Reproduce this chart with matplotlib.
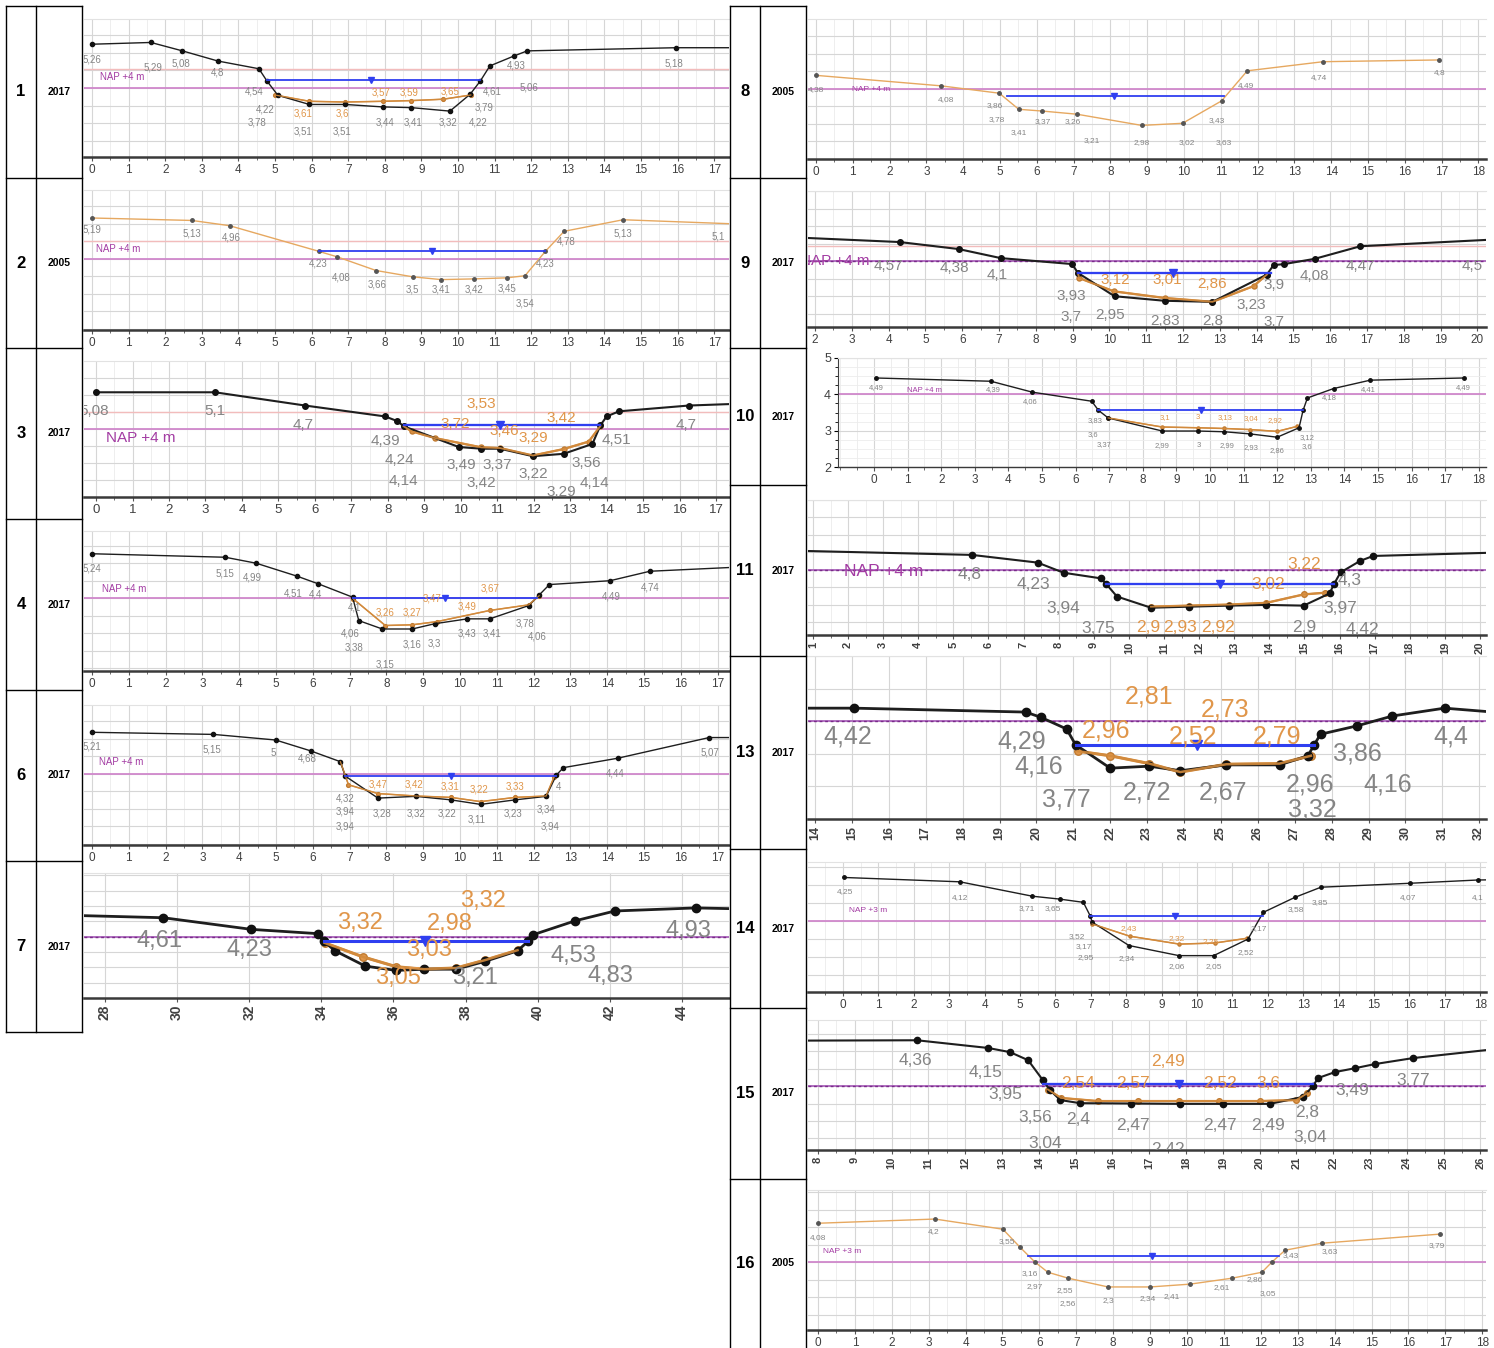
import matplotlib
matplotlib.use("Agg")
import matplotlib.pyplot as plt
from matplotlib.ticker import MultipleLocator
from matplotlib import font_manager

W, H = 1494, 1348

# ---------------- data (x in m along section, z in m) ----------------
# Panel 1 (2017)
P1_X = [0, 1.61, 2.47, 3.44, 4.56, 4.78, 5.08, 5.94, 6.92, 7.94, 8.72, 9.78, 10.33, 10.61, 10.87, 11.52, 11.89, 15.95, 17.8]
P1_Z = [5.25, 5.30, 5.06, 4.77, 4.55, 4.20, 3.79, 3.53, 3.53, 3.46, 3.44, 3.34, 3.82, 4.20, 4.63, 4.91, 5.06, 5.15, 5.15]
P1_OX = [5.0, 5.94, 6.92, 7.94, 8.72, 9.6, 10.35]
P1_OZ = [3.80, 3.62, 3.60, 3.62, 3.64, 3.68, 3.80]
P1_WL = [4.78, 10.61, 4.23, 7.63]
P1_LAB = [(0, 4.82, "5,26", "g"), (1.67, 4.58, "5,29", "g"), (2.44, 4.69, "5,08", "g"), (3.44, 4.44, "4,8", "g"),
          (4.44, 3.91, "4,54", "g"), (4.72, 3.40, "4,22", "g"), (4.5, 3.01, "3,78", "g"), (5.78, 3.26, "3,61", "o"),
          (5.78, 2.77, "3,51", "g"), (6.83, 3.26, "3,6", "o"), (6.83, 2.77, "3,51", "g"), (7.9, 3.86, "3,57", "o"),
          (8.67, 3.86, "3,59", "o"), (9.78, 3.91, "3,65", "o"), (8.0, 3.01, "3,44", "g"), (8.78, 3.01, "3,41", "g"),
          (9.72, 3.01, "3,32", "g"), (10.56, 3.01, "4,22", "g"), (10.72, 3.44, "3,79", "g"), (10.94, 3.89, "4,61", "g"),
          (11.6, 4.63, "4,93", "g"), (11.94, 4.0, "5,06", "g"), (15.89, 4.69, "5,18", "g"), (0.22, 4.32, "NAP +4 m", "m")]

# Panel 2 (2005)
P2_X = [0, 2.73, 3.76, 6.19, 6.7, 7.76, 8.76, 9.54, 10.43, 11.33, 11.83, 12.39, 12.9, 14.51, 17.6]
P2_Z = [5.17, 5.10, 4.95, 4.22, 4.06, 3.67, 3.49, 3.41, 3.43, 3.46, 3.52, 4.22, 4.79, 5.12, 5.0]
P2_WL = [6.19, 12.39, 4.22, 9.3]
P2_LAB = [(0, 4.84, "5,19", "g"), (2.73, 4.74, "5,13", "g"), (3.8, 4.62, "4,96", "g"), (6.19, 3.86, "4,23", "g"),
          (6.8, 3.46, "4,08", "g"), (7.8, 3.27, "3,66", "g"), (8.76, 3.12, "3,5", "g"), (9.54, 3.12, "3,41", "g"),
          (10.43, 3.12, "3,42", "g"), (11.33, 3.15, "3,45", "g"), (11.83, 2.74, "3,54", "g"), (12.39, 3.86, "4,23", "g"),
          (12.95, 4.5, "4,78", "g"), (14.51, 4.74, "5,13", "g"), (17.1, 4.65, "5,1", "g"), (0.1, 4.27, "NAP +4 m", "m")]

# Panel 3 (2017)
P3_X = [0, 3.26, 5.73, 7.92, 8.26, 8.43, 9.94, 10.56, 11.07, 11.97, 12.81, 13.6, 13.82, 13.99, 14.33, 16.24, 17.8]
P3_Z = [5.07, 5.07, 4.68, 4.36, 4.22, 4.07, 3.46, 3.41, 3.41, 3.19, 3.26, 3.55, 4.10, 4.36, 4.51, 4.68, 4.74]
P3_OX = [8.43, 8.65, 9.3, 10.56, 11.07, 11.97, 12.81, 13.5, 13.82]
P3_OZ = [4.07, 3.92, 3.72, 3.45, 3.43, 3.21, 3.40, 3.62, 4.08]
P3_WL = [8.43, 13.82, 4.10, 11.07]
P3_LAB = [(-0.05, 4.51, "5,08", "g"), (3.26, 4.51, "5,1", "g"), (5.67, 4.12, "4,7", "g"), (7.92, 3.63, "4,39", "g"),
          (8.31, 3.09, "4,24", "g"), (8.43, 2.45, "4,14", "g"), (10.56, 4.73, "3,53", "o"), (9.83, 4.14, "3,72", "o"),
          (11.18, 3.94, "3,46", "o"), (11.97, 3.73, "3,29", "o"), (12.75, 4.31, "3,42", "o"), (10.0, 2.94, "3,49", "g"),
          (11.0, 2.94, "3,37", "g"), (10.56, 2.40, "3,42", "g"), (11.97, 2.67, "3,22", "g"), (12.75, 2.14, "3,29", "g"),
          (13.43, 2.99, "3,56", "g"), (14.27, 3.68, "4,51", "g"), (13.65, 2.40, "4,14", "g"), (16.18, 4.10, "4,7", "g"),
          (0.28, 3.73, "NAP +4 m", "m")]

# Panel 4 (2017)
P4_X = [0, 3.62, 4.46, 5.57, 6.15, 7.08, 7.25, 7.89, 8.7, 9.31, 10.2, 10.81, 11.87, 12.15, 12.43, 14.08, 15.16, 17.8]
P4_Z = [5.27, 5.17, 5.00, 4.63, 4.41, 4.03, 3.36, 3.12, 3.12, 3.27, 3.41, 3.41, 3.79, 4.09, 4.39, 4.50, 4.77, 4.90]
P4_OX = [7.1, 7.97, 8.7, 9.37, 10.81, 11.87, 12.15]
P4_OZ = [3.98, 3.22, 3.24, 3.33, 3.65, 3.81, 4.07]
P4_WL = [7.08, 12.1, 4.0, 9.59]
P4_LAB = [(0, 4.84, "5,24", "g"), (3.62, 4.72, "5,15", "g"), (4.35, 4.60, "4,99", "g"), (5.46, 4.12, "4,51", "g"),
          (6.08, 4.10, "4,4", "g"), (7.13, 3.74, "4,1", "g"), (7.02, 2.98, "4,06", "g"), (7.13, 2.60, "3,38", "g"),
          (7.97, 2.12, "3,15", "g"), (7.97, 3.60, "3,26", "o"), (8.7, 3.60, "3,27", "o"), (9.25, 3.98, "3,47", "o"),
          (10.81, 4.27, "3,67", "o"), (10.2, 3.77, "3,49", "o"), (8.7, 2.69, "3,16", "g"), (9.31, 2.72, "3,3", "g"),
          (10.2, 2.98, "3,43", "g"), (10.87, 2.98, "3,41", "g"), (11.76, 3.29, "3,78", "g"), (12.1, 2.91, "4,06", "g"),
          (14.1, 4.05, "4,49", "g"), (15.16, 4.31, "4,74", "g"), (0.28, 4.27, "NAP +4 m", "m")]

# Panel 6 (2017)
P6_X = [0, 3.3, 4.99, 5.94, 6.75, 6.88, 7.77, 8.8, 9.75, 10.56, 11.5, 12.34, 12.62, 12.81, 14.29, 16.77, 17.8]
P6_Z = [5.19, 5.13, 4.97, 4.66, 4.35, 3.94, 3.31, 3.36, 3.26, 3.13, 3.26, 3.36, 3.97, 4.18, 4.45, 5.04, 5.04]
P6_OX = [6.75, 6.97, 7.77, 8.8, 9.75, 10.56, 11.5, 12.34, 12.56]
P6_OZ = [4.35, 3.69, 3.44, 3.37, 3.33, 3.21, 3.33, 3.37, 3.92]
P6_WL = [6.88, 12.62, 3.94, 9.75]
P6_LAB = [(0, 4.78, "5,21", "g"), (3.26, 4.69, "5,15", "g"), (4.93, 4.60, "5", "g"), (5.86, 4.45, "4,68", "g"),
          (6.88, 3.31, "4,32", "g"), (6.88, 2.93, "3,94", "g"), (6.88, 2.50, "3,94", "g"), (7.77, 3.69, "3,47", "o"),
          (8.75, 3.69, "3,42", "o"), (9.72, 3.64, "3,31", "o"), (10.53, 3.56, "3,22", "o"), (11.5, 3.64, "3,33", "o"),
          (7.88, 2.86, "3,28", "g"), (8.8, 2.86, "3,32", "g"), (9.66, 2.86, "3,22", "g"), (10.45, 2.70, "3,11", "g"),
          (11.45, 2.86, "3,23", "g"), (12.34, 2.98, "3,34", "g"), (12.67, 3.64, "4", "g"), (12.45, 2.50, "3,94", "g"),
          (14.21, 4.02, "4,44", "g"), (16.79, 4.60, "5,07", "g"), (0.2, 4.35, "NAP +4 m", "m")]

# Panel 7 (2017)
P7_X = [27.0, 29.62, 32.06, 33.91, 34.06, 34.38, 35.22, 36.08, 36.85, 37.74, 38.55, 39.44, 39.74, 39.86, 41.04, 42.14, 44.38, 46.0]
P7_Z = [4.35, 4.31, 4.12, 4.05, 3.93, 3.77, 3.52, 3.45, 3.47, 3.47, 3.60, 3.77, 3.93, 4.03, 4.26, 4.42, 4.47, 4.45]
P7_OX = [34.09, 35.16, 36.08, 36.85, 37.74, 38.55, 39.44]
P7_OZ = [3.90, 3.67, 3.51, 3.47, 3.49, 3.62, 3.78]
P7_WL = [34.06, 39.74, 3.93, 36.87]
P7_LAB = [(29.51, 3.93, "4,61", "g"), (32.0, 3.78, "4,23", "g"), (35.07, 4.23, "3,32", "o"), (38.49, 4.58, "3,32", "o"),
          (37.56, 4.20, "2,98", "o"), (36.99, 3.78, "3,03", "o"), (36.12, 3.32, "3,05", "o"), (38.26, 3.32, "3,21", "g"),
          (40.99, 3.69, "4,53", "g"), (42.03, 3.36, "4,83", "g"), (44.17, 4.09, "4,93", "g")]

# Panel 8 (2005)
P8_X = [0, 3.4, 4.98, 5.51, 6.15, 7.09, 8.85, 9.96, 11.02, 11.72, 13.78, 16.94]
P8_Z = [4.38, 4.08, 3.87, 3.41, 3.36, 3.27, 2.95, 3.01, 3.65, 4.51, 4.77, 4.82]
P8_WL = [5.2, 11.1, 3.79, 8.11]
P8_LAB = [(0, 3.98, "4,38", "g"), (3.52, 3.70, "4,08", "g"), (4.87, 3.53, "3,86", "g"), (4.92, 3.13, "3,78", "g"),
          (5.51, 2.74, "3,41", "g"), (6.15, 3.05, "3,37", "g"), (6.98, 3.05, "3,26", "g"), (7.5, 2.51, "3,21", "g"),
          (8.85, 2.46, "2,98", "g"), (10.08, 2.46, "3,02", "g"), (10.9, 3.08, "3,43", "g"), (11.08, 2.46, "3,63", "g"),
          (11.67, 4.08, "4,49", "g"), (13.66, 4.33, "4,74", "g"), (16.94, 4.46, "4,8", "g"), (0.99, 3.98, "NAP +4 m", "m")]

# Panel 9 (2017)
P9_X = [1.5, 4.3, 5.9, 7.05, 8.99, 9.14, 10.14, 11.5, 12.8, 14.28, 14.46, 14.75, 15.58, 16.82, 20.6]
P9_Z = [4.68, 4.55, 4.35, 4.09, 3.92, 3.67, 3.00, 2.87, 2.84, 3.62, 3.89, 3.92, 4.07, 4.43, 4.63]
P9_OX = [9.14, 9.18, 10.12, 11.5, 12.8, 13.92, 14.28]
P9_OZ = [3.67, 3.52, 3.14, 2.95, 2.84, 3.29, 3.62]
P9_WL = [9.14, 14.4, 3.67, 11.74]
P9_LAB = [(4.0, 3.86, "4,57", "g"), (5.78, 3.81, "4,38", "g"), (6.96, 3.62, "4,1", "g"), (8.96, 3.0, "3,93", "g"),
          (8.96, 2.40, "3,7", "g"), (10.03, 2.46, "2,95", "g"), (11.5, 2.30, "2,83", "g"), (12.8, 2.30, "2,8", "g"),
          (10.15, 3.47, "3,12", "o"), (11.56, 3.47, "3,01", "o"), (12.8, 3.35, "2,86", "o"), (14.46, 3.33, "3,9", "g"),
          (13.86, 2.76, "3,23", "g"), (14.46, 2.27, "3,7", "g"), (15.58, 3.57, "4,08", "g"), (16.82, 3.86, "4,47", "g"),
          (19.85, 3.86, "4,5", "g"), (1.6, 4.0, "NAP +4 m", "m")]

# Panel 10 (2017)
P10_X = [0.06, 3.48, 4.71, 6.48, 6.68, 6.97, 8.58, 9.65, 10.43, 11.2, 12.0, 12.65, 12.77, 12.9, 13.68, 14.77, 17.55]
P10_Z = [4.45, 4.36, 4.06, 3.81, 3.56, 3.35, 2.99, 2.99, 2.97, 2.91, 2.82, 3.08, 3.56, 3.90, 4.16, 4.39, 4.45]
P10_OX = [6.97, 8.58, 9.65, 10.43, 11.2, 12.0, 12.6]
P10_OZ = [3.35, 3.10, 3.08, 3.06, 3.03, 2.98, 3.12]
P10_WL = [6.68, 12.77, 3.56, 9.74]
P10_LAB = [(0.06, 4.20, "4,49", "g"), (3.55, 4.13, "4,39", "g"), (4.65, 3.81, "4,06", "g"), (6.58, 3.28, "3,83", "g"),
           (6.52, 2.88, "3,6", "g"), (6.84, 2.62, "3,37", "g"), (8.58, 2.58, "2,99", "g"), (9.68, 2.58, "3", "g"),
           (10.52, 2.58, "2,99", "g"), (11.23, 2.53, "2,93", "g"), (12.0, 2.44, "2,86", "g"), (12.9, 2.80, "3,12", "g"),
           (12.9, 2.55, "3,6", "g"), (8.65, 3.35, "3,1", "o"), (9.65, 3.35, "3", "o"), (10.45, 3.35, "3,13", "o"),
           (11.23, 3.33, "3,04", "o"), (11.94, 3.28, "2,92", "o"), (13.55, 3.92, "4,18", "g"), (14.7, 4.13, "4,41", "g"),
           (17.55, 4.20, "4,49", "g"), (0.97, 4.1, "NAP +4 m", "m")]

# Panel 11 (2017)
P11_X = [0.5, 5.53, 7.4, 8.14, 9.2, 9.36, 9.66, 10.63, 11.72, 12.86, 13.92, 14.98, 15.72, 15.84, 16.03, 16.59, 16.96, 20.6]
P11_Z = [4.55, 4.43, 4.21, 3.92, 3.76, 3.59, 3.24, 2.92, 2.95, 2.98, 3.00, 2.98, 3.33, 3.59, 3.93, 4.26, 4.40, 4.50]
P11_OX = [10.63, 11.72, 12.86, 13.92, 14.98, 15.6]
P11_OZ = [2.95, 2.98, 3.01, 3.06, 3.30, 3.35]
P11_WL = [9.36, 15.84, 3.59, 12.59]
P11_LAB = [(5.47, 3.88, "4,8", "g"), (7.27, 3.59, "4,23", "g"), (8.14, 2.90, "3,94", "g"), (9.14, 2.33, "3,75", "g"),
           (10.55, 2.35, "2,9", "o"), (11.45, 2.35, "2,93", "o"), (12.55, 2.35, "2,92", "o"), (14.98, 4.16, "3,22", "o"),
           (13.98, 3.57, "3,02", "o"), (16.28, 3.71, "4,3", "g"), (16.03, 2.90, "3,97", "g"), (16.65, 2.31, "4,42", "g"),
           (14.98, 2.35, "2,9", "g"), (1.87, 3.95, "NAP +4 m", "m")]

# Panel 13 (2017)
P13_X = [13.5, 15.06, 19.71, 20.12, 20.82, 21.06, 22.0, 23.06, 23.9, 25.15, 26.59, 27.36, 27.53, 27.7, 28.7, 29.65, 31.06, 32.6]
P13_Z = [4.20, 4.20, 4.14, 4.06, 3.88, 3.64, 3.28, 3.31, 3.24, 3.33, 3.33, 3.47, 3.64, 3.80, 3.93, 4.08, 4.20, 4.13]
P13_OX = [21.12, 22.0, 23.06, 23.9, 25.15, 26.59, 27.44]
P13_OZ = [3.54, 3.47, 3.35, 3.22, 3.34, 3.35, 3.47]
P13_WL = [21.06, 27.53, 3.64, 24.35]
P13_LAB = [(14.88, 3.77, "4,42", "g"), (19.59, 3.69, "4,29", "g"), (20.06, 3.30, "4,16", "g"), (20.82, 2.80, "3,77", "g"),
           (23.0, 2.90, "2,72", "g"), (25.06, 2.90, "2,67", "g"), (27.41, 3.03, "2,96", "g"), (27.47, 2.65, "3,32", "g"),
           (28.7, 3.51, "3,86", "g"), (29.53, 3.03, "4,16", "g"), (31.24, 3.77, "4,4", "g"), (23.06, 4.38, "2,81", "o"),
           (25.1, 4.18, "2,73", "o"), (21.88, 3.85, "2,96", "o"), (24.24, 3.77, "2,52", "o"), (26.53, 3.77, "2,79", "o")]

# Panel 14 (2017)
P14_X = [0.04, 3.3, 5.35, 6.12, 6.79, 6.98, 7.04, 8.08, 9.49, 10.47, 11.44, 11.87, 12.77, 13.5, 16.03, 17.93, 18.6]
P14_Z = [4.20, 4.08, 3.68, 3.60, 3.51, 3.14, 2.96, 2.31, 2.03, 2.03, 2.49, 3.23, 3.65, 3.93, 4.04, 4.13, 4.14]
P14_OX = [7.04, 8.1, 9.5, 10.5, 11.4]
P14_OZ = [2.91, 2.57, 2.35, 2.38, 2.51]
P14_WL = [6.98, 11.87, 3.14, 9.39]
P14_LAB = [(0.06, 3.81, "4,25", "g"), (3.3, 3.65, "4,12", "g"), (5.2, 3.34, "3,71", "g"), (5.94, 3.34, "3,65", "g"),
           (6.61, 2.57, "3,52", "g"), (6.79, 2.29, "3,17", "g"), (6.85, 1.98, "2,95", "g"), (8.02, 1.96, "2,34", "g"),
           (9.42, 1.73, "2,06", "g"), (10.47, 1.73, "2,05", "g"), (11.38, 2.12, "2,52", "g"), (11.75, 2.77, "3,17", "g"),
           (12.79, 3.32, "3,58", "g"), (13.46, 3.51, "3,85", "g"), (15.97, 3.65, "4,07", "g"), (17.93, 3.65, "4,1", "g"),
           (8.08, 2.79, "2,43", "o"), (9.42, 2.51, "2,32", "o"), (10.4, 2.42, "2,25", "o"), (0.18, 3.28, "NAP +3 m", "m")]

# Panel 15 (2017)
P15_X = [7.5, 10.69, 12.62, 13.22, 13.71, 14.11, 14.3, 14.58, 15.12, 16.5, 17.84, 19.0, 20.28, 21.18, 21.45, 21.59, 22.05, 22.59, 23.14, 24.17, 26.6]
P15_Z = [5.30, 5.31, 5.09, 4.97, 4.74, 4.17, 3.89, 3.60, 3.51, 3.50, 3.49, 3.49, 3.49, 3.69, 4.00, 4.23, 4.40, 4.51, 4.63, 4.80, 5.08]
P15_OX = [14.25, 14.6, 15.6, 16.7, 17.8, 18.9, 20.0, 21.0, 21.3]
P15_OZ = [3.90, 3.66, 3.57, 3.57, 3.57, 3.57, 3.57, 3.60, 3.80]
P15_WL = [14.11, 21.45, 4.06, 17.8]
P15_LAB = [(10.64, 4.74, "4,36", "g"), (12.54, 4.40, "4,15", "g"), (13.08, 3.77, "3,95", "g"), (13.9, 3.09, "3,56", "g"),
           (14.17, 2.37, "3,04", "g"), (15.07, 3.03, "2,4", "g"), (16.56, 2.86, "2,47", "g"), (17.51, 2.17, "2,42", "g"),
           (18.92, 2.86, "2,47", "g"), (20.23, 2.86, "2,49", "g"), (21.29, 3.23, "2,8", "g"), (21.37, 2.54, "3,04", "g"),
           (22.51, 3.86, "3,49", "g"), (24.17, 4.17, "3,77", "g"), (17.51, 4.71, "2,49", "o"), (15.07, 4.06, "2,54", "o"),
           (16.56, 4.06, "2,57", "o"), (18.92, 4.06, "2,52", "o"), (20.23, 4.06, "3,6", "o")]

# Panel 16 (2005)
P16_X = [0, 3.17, 5.01, 5.47, 5.88, 6.23, 6.78, 7.86, 9.0, 10.08, 11.22, 12.03, 12.3, 12.66, 13.66, 16.86]
P16_Z = [4.11, 4.23, 3.94, 3.43, 3.00, 2.71, 2.54, 2.29, 2.29, 2.37, 2.54, 2.71, 3.00, 3.34, 3.54, 3.80]
P16_WL = [5.7, 12.5, 3.17, 9.05]
P16_LAB = [(0, 3.71, "4,08", "g"), (3.12, 3.86, "4,2", "g"), (5.12, 3.60, "3,55", "g"), (5.75, 2.66, "3,16", "g"),
           (5.88, 2.29, "2,97", "g"), (6.69, 2.20, "2,55", "g"), (6.78, 1.83, "2,56", "g"), (7.86, 1.91, "2,3", "g"),
           (8.94, 1.97, "2,34", "g"), (9.59, 2.03, "2,41", "g"), (10.95, 2.26, "2,61", "g"), (11.84, 2.51, "2,86", "g"),
           (12.2, 2.09, "3,05", "g"), (12.8, 3.20, "3,43", "g"), (13.88, 3.31, "3,63", "g"), (16.78, 3.46, "3,79", "g"),
           (0.14, 3.29, "NAP +3 m", "m")]

ROWS_LEFT = [("1", "2017"), ("2", "2005"), ("3", "2017"), ("4", "2017"), ("6", "2017"), ("7", "2017")]
ROWS_RIGHT = [("8", "2005"), ("9", "2017"), ("10", "2017"), ("11", "2017"), ("13", "2017"), ("14", "2017"),
              ("15", "2017"), ("16", "2005")]

# ---------------- styling / layout ----------------
names = {f.name for f in font_manager.fontManager.ttflist}
NARROW = 'Liberation Sans Narrow' if 'Liberation Sans Narrow' in names else 'Liberation Sans'
plt.rcParams['font.family'] = ['Liberation Sans', 'DejaVu Sans']

GRAY = '#858585'
ORANGE = '#e0964a'
MAG = '#a33ca3'
BLUE = '#2f3ff0'
COLS = {"g": GRAY, "o": ORANGE, "m": MAG}

fig = plt.figure(figsize=(W / 100, H / 100), dpi=100)


def frac(l, t, r, b):
    return [l / W, 1 - b / H, (r - l) / W, (b - t) / H]


def panel(box, v0, p0, ppu, ylim, px, pz, wl, labels, ticks, nap, ox=None, oz=None, old=False,
          fs=7, tfs=8.5, rot=0, lw=1.0, ms=3, hstep=0.5, vmajor=1, vminor=0.5, napdash=False,
          yaxis=False, upper=None, bold_ticks=False):
    L, T, R, B = box
    ax = fig.add_axes(frac(L, T, R, B))
    ax.set_xlim(v0 + (L - p0) / ppu, v0 + (R - p0) / ppu)
    ax.set_ylim(*ylim)
    ax.xaxis.set_major_locator(MultipleLocator(vmajor))
    if vminor:
        ax.xaxis.set_minor_locator(MultipleLocator(vminor))
        ax.grid(True, which='minor', axis='x', color='#ebebeb', lw=0.6)
    ax.yaxis.set_major_locator(MultipleLocator(hstep))
    ax.grid(True, which='major', axis='both', color='#d6d6d6', lw=0.8)
    ax.set_axisbelow(True)
    ax.set_xticks(ticks)
    ax.set_xticklabels([str(t) for t in ticks], fontsize=tfs, color='#404040', rotation=rot,
                       family=[NARROW, 'DejaVu Sans'], fontweight='bold' if bold_ticks else 'normal')
    ax.tick_params(axis='x', which='both', direction='out', length=3, color='#555555', pad=2)
    ax.tick_params(axis='x', which='minor', length=2)
    for s in ('left', 'right'):
        ax.spines[s].set_visible(False)
    ax.spines['top'].set_color('#e2e2e2')
    ax.spines['bottom'].set_color('#3a3a3a')
    ax.spines['bottom'].set_linewidth(1.8)
    if yaxis:
        ax.spines['left'].set_visible(True)
        ax.spines['left'].set_color('#404040')
        ax.set_yticks([2, 3, 4, 5])
        ax.set_yticklabels(['2', '3', '4', '5'], fontsize=9, color='#404040')
        ax.tick_params(axis='y', length=3, pad=2)
        ax.yaxis.set_minor_locator(MultipleLocator(0.25))
        ax.grid(True, which='minor', axis='y', color='#ececec', lw=0.6)
        ax.spines['bottom'].set_linewidth(1.0)
    else:
        ax.tick_params(axis='y', left=False, labelleft=False)
    if upper is not None:
        ax.axhline(upper, color='#f2bcbc', lw=1.0, zorder=1)
    if napdash:
        ax.axhline(nap, color='#b070c0', lw=1.4, zorder=1)
        ax.axhline(nap, color='#7a2a8a', lw=1.0, ls=(0, (2, 2)), zorder=1.1)
    else:
        ax.axhline(nap, color='#d088cc', lw=1.3, zorder=1)
    # profile
    if old:
        ax.plot(px, pz, color='#e6a860', lw=lw, zorder=3, marker='o', ms=ms, mfc='#555555', mec='#555555')
    else:
        if ox is not None:
            ax.plot(ox, oz, color='#d28a3c', lw=lw * 1.1, marker='o', ms=ms * 0.9, mfc=ORANGE, mec='#c07a30',
                    zorder=3)
        ax.plot(px, pz, color='#1e1e1e', lw=lw, marker='o', ms=ms, mfc='#111111', mec='#111111', zorder=4)
        if ox is not None:
            ax.plot(ox, oz, color='#d28a3c', lw=lw * 0.9, zorder=4.5, alpha=0.9)
    # water level
    ax.plot([wl[0], wl[1]], [wl[2], wl[2]], color=BLUE, lw=max(1.3, lw * 1.1), zorder=5)
    ax.plot([wl[3]], [wl[2]], marker='v', color=BLUE, ms=ms + 1.5, zorder=5.5)
    for (x, z, t, c) in labels:
        ha = 'left' if c == 'm' else 'center'
        ax.text(x, z, t, color=COLS[c], fontsize=fs, ha=ha, va='center', clip_on=True,
                family=[NARROW, 'DejaVu Sans'], zorder=6)
    return ax


# left column
panel((84, 19, 729, 157), 0, 92, 36.6, (2.03, 5.97), P1_X, P1_Z, P1_WL, P1_LAB, list(range(18)), 4,
      ox=P1_OX, oz=P1_OZ, upper=4.53)
panel((84, 190, 729, 330), 0, 92, 36.6, (1.97, 5.97), P2_X, P2_Z, P2_WL, P2_LAB, list(range(18)), 4,
      old=True, ms=2.5, upper=4.5)
panel((84, 361, 729, 497), 0, 96, 36.5, (1.99, 5.99), P3_X, P3_Z, P3_WL, P3_LAB, list(range(18)), 4,
      ox=P3_OX, oz=P3_OZ, fs=11, tfs=9.5, lw=1.5, ms=4, upper=4.5)
panel((84, 531, 729, 671), 0, 92, 36.8, (1.92, 5.92), P4_X, P4_Z, P4_WL, P4_LAB, list(range(18)), 4,
      ox=P4_OX, oz=P4_OZ)
panel((84, 705, 729, 845), 0, 92, 36.8, (1.97, 5.97), P6_X, P6_Z, P6_WL, P6_LAB, list(range(18)), 4,
      ox=P6_OX, oz=P6_OZ)
panel((84, 873, 729, 998), 28, 105, 36.06, (3.0, 5.04), P7_X, P7_Z, P7_WL, P7_LAB, list(range(28, 45, 2)), 4,
      ox=P7_OX, oz=P7_OZ, fs=17, tfs=10, rot=90, lw=2.0, ms=6, hstep=0.25, vmajor=2, vminor=None,
      napdash=True, bold_ticks=True)

# right column
panel((808, 19, 1486, 159), 0, 816, 36.8, (1.99, 5.99), P8_X, P8_Z, P8_WL, P8_LAB, list(range(19)), 4,
      old=True, ms=2.5, fs=6)
panel((808, 191, 1486, 327), 2, 815, 36.8, (2.12, 6.01), P9_X, P9_Z, P9_WL, P9_LAB, list(range(2, 21)), 4,
      ox=P9_OX, oz=P9_OZ, fs=11, tfs=8.5, lw=1.5, ms=4, napdash=True, upper=4.43)
panel((838, 358, 1486, 467), 0, 874, 33.6, (2.0, 5.0), P10_X, P10_Z, P10_WL, P10_LAB, list(range(19)), 4,
      ox=P10_OX, oz=P10_OZ, fs=5.5, ms=2.5, yaxis=True)
panel((808, 500, 1486, 635), 1, 813, 35.1, (2.14, 6.0), P11_X, P11_Z, P11_WL, P11_LAB, list(range(1, 21)), 4,
      ox=P11_OX, oz=P11_OZ, fs=12.5, tfs=8, rot=90, lw=1.5, ms=4.5, napdash=True, bold_ticks=True)
panel((808, 656, 1486, 819), 14, 815, 36.9, (2.5, 5.0), P13_X, P13_Z, P13_WL, P13_LAB, list(range(14, 33)), 4,
      ox=P13_OX, oz=P13_OZ, fs=18, tfs=9, rot=90, lw=2.0, ms=6, vminor=None, napdash=True, bold_ticks=True)
panel((808, 862, 1486, 992), 0, 843, 35.4, (1.02, 4.63), P14_X, P14_Z, P14_WL, P14_LAB, list(range(19)), 3,
      ox=P14_OX, oz=P14_OZ, fs=6, ms=2.5)
panel((808, 1020, 1486, 1150), 8, 818, 36.8, (2.17, 5.89), P15_X, P15_Z, P15_WL, P15_LAB, list(range(8, 27)), 4,
      ox=P15_OX, oz=P15_OZ, fs=12.5, tfs=8, rot=90, lw=1.5, ms=4.5, napdash=True, bold_ticks=True)
panel((808, 1190, 1486, 1330), 0, 818, 36.9, (1.06, 5.06), P16_X, P16_Z, P16_WL, P16_LAB, list(range(19)), 3,
      old=True, ms=2.5, fs=6)

# ---------------- table frame ----------------
bg = fig.add_axes([0, 0, 1, 1], zorder=10)
bg.set_xlim(0, W)
bg.set_ylim(H, 0)
bg.axis('off')
bg.patch.set_alpha(0)

yl = [6, 178, 348, 519, 690, 861, 1032]
yr = [6, 178, 348, 485, 656, 849, 1008, 1179, 1348]
for x in (6, 36, 82):
    bg.plot([x, x], [6, 1032], color='k', lw=1)
for x in (730, 760, 806):
    bg.plot([x, x], [6, 1348], color='k', lw=1)
for y in yl:
    bg.plot([6, 82], [y, y], color='k', lw=1)
for y in yr[:-1]:
    bg.plot([730, 806], [y, y], color='k', lw=1)
for i, (num, yr_) in enumerate(ROWS_LEFT):
    yc = (yl[i] + yl[i + 1]) / 2
    bg.text(21, yc, num, ha='center', va='center', fontsize=12, fontweight='bold')
    bg.text(59, yc, yr_, ha='center', va='center', fontsize=7.5, fontweight='bold')
for i, (num, yr_) in enumerate(ROWS_RIGHT):
    yc = (yr[i] + yr[i + 1]) / 2
    bg.text(745, yc, num, ha='center', va='center', fontsize=12, fontweight='bold')
    bg.text(783, yc, yr_, ha='center', va='center', fontsize=7.5, fontweight='bold')

fig.savefig("out.png", dpi=100)
